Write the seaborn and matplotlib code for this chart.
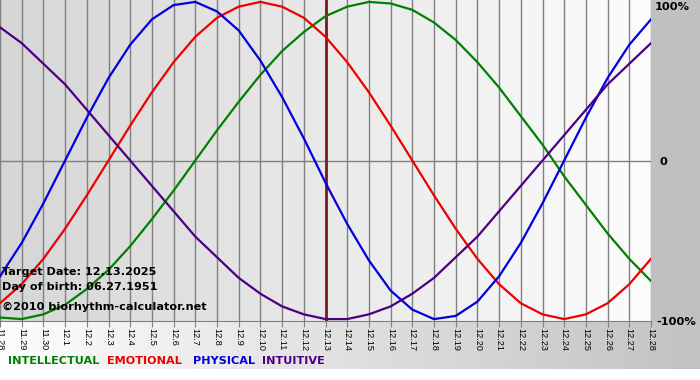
import numpy as np
import pandas as pd
import matplotlib
matplotlib.use("Agg")
import matplotlib.pyplot as plt
import seaborn as sns
from matplotlib.patches import Rectangle

dates = ["11.28", "11.29", "11.30", "12.1", "12.2", "12.3", "12.4", "12.5", "12.6",
         "12.7", "12.8", "12.9", "12.10", "12.11", "12.12", "12.13", "12.14", "12.15",
         "12.16", "12.17", "12.18", "12.19", "12.20", "12.21", "12.22", "12.23", "12.24",
         "12.25", "12.26", "12.27", "12.28"]

physical = [-0.73, -0.52, -0.27, 0.00, 0.27, 0.52, 0.73, 0.89, 0.98, 1.00, 0.94,
            0.82, 0.63, 0.40, 0.14, -0.14, -0.40, -0.63, -0.82, -0.94, -1.00, -0.98,
            -0.89, -0.73, -0.52, -0.27, 0.00, 0.27, 0.52, 0.73, 0.89]
emotional = [-0.90, -0.78, -0.62, -0.43, -0.22, 0.00, 0.22, 0.43, 0.62, 0.78, 0.90,
             0.97, 1.00, 0.97, 0.90, 0.78, 0.62, 0.43, 0.22, 0.00, -0.22, -0.43,
             -0.62, -0.78, -0.90, -0.97, -1.00, -0.97, -0.90, -0.78, -0.62]
intellectual = [-0.99, -1.00, -0.97, -0.91, -0.81, -0.69, -0.54, -0.37, -0.19, 0.00,
                0.19, 0.37, 0.54, 0.69, 0.81, 0.91, 0.97, 1.00, 0.99, 0.95, 0.87,
                0.76, 0.62, 0.46, 0.28, 0.10, -0.10, -0.28, -0.46, -0.62, -0.76]
intuitive = [0.84, 0.74, 0.61, 0.48, 0.32, 0.16, 0.00, -0.16, -0.32, -0.48, -0.61,
             -0.74, -0.84, -0.92, -0.97, -1.00, -1.00, -0.97, -0.92, -0.84, -0.74,
             -0.61, -0.48, -0.32, -0.16, 0.00, 0.16, 0.32, 0.48, 0.61, 0.74]

series_names = ["INTELLECTUAL", "EMOTIONAL", "PHYSICAL", "INTUITIVE"]
colors = {"INTELLECTUAL": "#008000", "EMOTIONAL": "#ee0000",
          "PHYSICAL": "#0000dd", "INTUITIVE": "#4b0082"}
target_date = "12.13"

n = len(dates)
df = pd.concat([
    pd.DataFrame({"day": np.arange(n), "value": vals, "series": name})
    for name, vals in zip(series_names, [intellectual, emotional, physical, intuitive])
], ignore_index=True)

W, H = 700, 380
fig = plt.figure(figsize=(7, 3.8), dpi=100, facecolor="white")

# background (pixel coordinates)
bg = fig.add_axes([0, 0, 1, 1], zorder=-5)
bg.set_xlim(0, W)
bg.set_ylim(H, 0)
bg.axis("off")
bg.add_patch(Rectangle((651, 0), 49, 322, color="#c0c0c0", lw=0))
grad = np.linspace(0.99, 0.76, 256)[None, :]
bg.imshow(grad, cmap="gray", vmin=0, vmax=1, aspect="auto",
          extent=(0, W, 369, 321), zorder=0)

plot_left, plot_right, plot_top, plot_bottom = 0, 651, 0, 321
ax = fig.add_axes([plot_left / W, 1 - plot_bottom / H,
                   (plot_right - plot_left) / W, (plot_bottom - plot_top) / H], zorder=1)
ax.patch.set_alpha(0)

# stepped gradient columns
for i in range(n - 1):
    s = 0.84 + 0.145 * i / (n - 2)
    ax.axvspan(i, i + 1, color=(s, s, s), lw=0, zorder=0)

ax.set_xlim(0, n - 1)
ax.set_ylim(-1.012, 1.012)

for i in range(n):
    ax.axvline(i, color="#808080", lw=1, zorder=1)
ax.axhline(0, color="#808080", lw=1, zorder=1)

ti = dates.index(target_date)
ax.axvline(ti, color="#7a1a1a", lw=2, zorder=2)

sns.lineplot(data=df, x="day", y="value", hue="series", palette=colors,
             hue_order=series_names, lw=1.6, legend=False, ax=ax, zorder=3,
             sort=False)

ax.set_xticks(range(n))
ax.set_xticklabels(dates, rotation=270, fontsize=6.6, family="Liberation Sans",
                   va="top", ha="center")
ax.tick_params(axis="x", length=4, color="#808080", pad=1)
ax.set_yticks([])
ax.set_xlabel("")
ax.set_ylabel("")
for sp in ["top", "left", "right"]:
    ax.spines[sp].set_visible(False)
ax.spines["bottom"].set_color("#808080")

def px(x, y):
    return x / W, 1 - y / H

bold = dict(fontweight="bold", family="DejaVu Sans", color="black")
fig.text(*px(2, 272), "Target Date: 12.13.2025", fontsize=8.1, va="center", ha="left", **bold)
fig.text(*px(2, 287), "Day of birth: 06.27.1951", fontsize=8.1, va="center", ha="left", **bold)
fig.text(*px(2, 307), "\u00a92010 biorhythm-calculator.net", fontsize=8.1, va="center", ha="left", **bold)

fig.text(*px(655, 7), "100%", fontsize=8.2, va="center", ha="left", **bold)
fig.text(*px(659, 162), "0", fontsize=8.2, va="center", ha="left", **bold)
fig.text(*px(656, 322), "-100%", fontsize=8.2, va="center", ha="left", **bold)

legend_x = {"INTELLECTUAL": 8, "EMOTIONAL": 107, "PHYSICAL": 193, "INTUITIVE": 262}
for name in series_names:
    fig.text(*px(legend_x[name], 361), name, fontsize=8.1, va="center", ha="left",
             fontweight="bold", family="DejaVu Sans", color=colors[name])

fig.savefig("out.png", dpi=100, facecolor="white")
